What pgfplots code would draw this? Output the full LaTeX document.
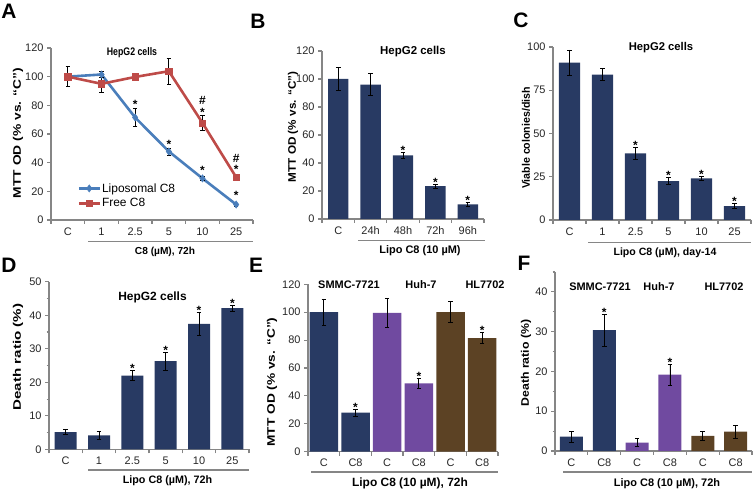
\documentclass[border=0pt]{standalone}
\usepackage{fontspec}
\setmainfont{Liberation Sans}
\usepackage{pgfplots}
\pgfplotsset{compat=1.18}
\definecolor{axgray}{RGB}{134,134,134}
\definecolor{navy}{RGB}{40,58,99}
\definecolor{purp}{RGB}{112,74,160}
\definecolor{brwn}{RGB}{92,66,36}
\definecolor{lblue}{RGB}{74,126,187}
\definecolor{lred}{RGB}{190,75,72}
\newcommand{\tfont}{\fontsize{11}{13}\selectfont}
\newcommand{\bfs}[1]{\bfseries\fontsize{#1}{#1}\selectfont}
\pgfplotsset{
 panel/.style={
  scale only axis, anchor=south west,
  axis lines*=left,
  axis line style={draw=axgray, line width=1.3bp},
  every tick/.style={draw=axgray, line width=1.1bp},
  tick align=outside,
  major tick length=4bp, minor tick length=2.5bp,
  ymin=0, xmin=-0.5,
  x tick label as interval,
  tick label style={font=\tfont, text=black!85},
  /pgf/number format/assume math mode=true,
  clip=false,
  enlargelimits=false,
 },
 errs/.style={error bars/.cd, y dir=both, y explicit,
   error bar style={black, line width=0.7bp},
   error mark options={rotate=90, black, mark size=2.3bp, line width=0.7bp}},
 barst/.style={ybar, bar shift=0pt, draw=none, fill=#1},
 starsbar/.style={draw=none, mark=none, nodes near coords, point meta=explicit symbolic,
   nodes near coords style={font=\bfseries\fontsize{12}{12}\selectfont, anchor=south, inner sep=0pt, yshift=-2.3bp}},
 starsA/.style={draw=none, mark=none, nodes near coords, point meta=explicit symbolic,
   nodes near coords style={font=\bfseries\fontsize{12}{12}\selectfont, anchor=south, inner sep=0pt}},
}
\begin{document}
\begin{tikzpicture}[x=1bp,y=1bp]
\useasboundingbox (0,0) rectangle (754,491);

% ---------------- A ----------------
\begin{axis}[panel, at={(51bp,271bp)}, width=202bp, height=172bp,
  xmax=5.5, ymax=120, ytick={0,20,...,120},
  xtick={-0.5,0.5,...,5.5}, xticklabels={C,1,2.5,5,10,25},
  legend style={font=\fontsize{12}{14}\selectfont, draw=none, fill=none, at={(0.13,0.22)}, anchor=north west,
     inner sep=0pt, row sep=3bp, nodes={inner sep=1bp}},
  legend cell align=left,
  legend image code/.code={\draw[mark repeat=2,mark phase=2] plot coordinates {(0bp,0bp)(10.5bp,0bp)(21bp,0bp)};}]
\addplot[lblue, line width=2.6bp, mark=diamond*, mark size=3.6bp, mark options={fill=lblue, line width=0.5bp}, errs]
 coordinates {(0,100) +- (0,1) (1,101.5) +- (0,2) (2,71.5) +- (0,6.3) (3,47.8) +- (0,2.5) (4,29) +- (0,1.5) (5,10.8) +- (0,1)};
\addlegendentry{Liposomal C8}
\addplot[lred, line width=2.6bp, mark=square*, mark size=3.2bp, mark options={fill=lred, line width=0.5bp}, errs]
 coordinates {(0,100) +- (0,7) (1,95) +- (0,6) (2,99.8) +- (0,2) (3,103.8) +- (0,9) (4,67.7) +- (0,5) (5,29.8) +- (0,1.5)};
\addlegendentry{Free C8}
\addplot[starsA, forget plot] coordinates {(2,77.3) [*] (3,49.8) [*] (4,31.3) [*] (5,13.9) [*] (4,71.9) [*] (5,32.3) [*] (4,80.5) [\#] (5,40) [\#]};
\end{axis}

% ---------------- B ----------------
\begin{axis}[panel, at={(322bp,272bp)}, width=162bp, height=168bp,
  xmax=4.5, ymax=120, ytick={0,20,...,120},
  xtick={-0.5,0.5,...,4.5}, xticklabels={C,24h,48h,72h,96h}]
\addplot[barst=navy, bar width=0.63, errs]
 coordinates {(0,100) +- (0,8) (1,96) +- (0,8) (2,45.5) +- (0,2) (3,23.5) +- (0,1.5) (4,10.5) +- (0,1.3)};
\addplot[starsbar] coordinates {(2,47.5) [*] (3,25) [*] (4,11.8) [*]};
\end{axis}

% ---------------- C ----------------
\begin{axis}[panel, at={(553bp,271bp)}, width=198bp, height=173bp,
  xmax=5.5, ymax=100, ytick={0,25,...,100},
  xtick={-0.5,0.5,...,5.5}, xticklabels={C,1,2.5,5,10,25}]
\addplot[barst=navy, bar width=0.64, errs]
 coordinates {(0,91) +- (0,7.3) (1,84) +- (0,3.5) (2,38.5) +- (0,3.2) (3,22.5) +- (0,2) (4,24) +- (0,1.2) (5,8) +- (0,1.5)};
\addplot[starsbar] coordinates {(2,41.7) [*] (3,24.5) [*] (4,25.2) [*] (5,9.5) [*]};
\end{axis}

% ---------------- D ----------------
\begin{axis}[panel, at={(49bp,41.5bp)}, width=200bp, height=167.8bp,
  xmax=5.5, ymax=50, ytick={0,10,...,50}, minor ytick={5,15,...,45},
  xtick={-0.5,0.5,...,5.5}, xticklabels={C,1,2.5,5,10,25}]
\addplot[barst=navy, bar width=0.66, errs]
 coordinates {(0,5.2) +- (0,0.7) (1,4.2) +- (0,1.1) (2,22) +- (0,1.5) (3,26.3) +- (0,2.6) (4,37.4) +- (0,3.4) (5,42.1) +- (0,0.9)};
\addplot[starsbar] coordinates {(2,23.5) [*] (3,28.9) [*] (4,40.8) [*] (5,43) [*]};
\end{axis}

% ---------------- E ----------------
\begin{axis}[panel, at={(308bp,39.3bp)}, width=190bp, height=167.4bp,
  xmax=5.5, ymax=120, ytick={0,20,...,120},
  xtick={-0.5,0.5,...,5.5}, xticklabels={C,C8,C,C8,C,C8}]
\addplot[barst=navy, bar width=0.9, errs] coordinates {(0,100) +- (0,9.5) (1,28) +- (0,2.5)};
\addplot[barst=purp, bar width=0.9, errs] coordinates {(2,99.5) +- (0,10.2) (3,49) +- (0,3.5)};
\addplot[barst=brwn, bar width=0.9, errs] coordinates {(4,100) +- (0,7.5) (5,81.5) +- (0,4)};
\addplot[starsbar] coordinates {(1,30.5) [*] (3,52.5) [*] (5,85.5) [*]};
\end{axis}

% ---------------- F ----------------
\begin{axis}[panel, at={(555bp,40bp)}, width=197bp, height=179bp,
  xmax=5.5, ymax=45, ytick={0,10,...,40}, minor ytick={5,15,...,45},
  xtick={-0.5,0.5,...,5.5}, xticklabels={C,C8,C,C8,C,C8}]
\addplot[barst=navy, bar width=0.7, errs] coordinates {(0,3.6) +- (0,1.4) (1,30.4) +- (0,4)};
\addplot[barst=purp, bar width=0.7, errs] coordinates {(2,2.1) +- (0,1) (3,19.2) +- (0,2.6)};
\addplot[barst=brwn, bar width=0.7, errs] coordinates {(4,3.8) +- (0,1.2) (5,4.9) +- (0,1.6)};
\addplot[starsbar] coordinates {(1,34.4) [*] (3,21.8) [*]};
\end{axis}

% ---------------- panel letters ----------------
\begin{scope}[every node/.style={font=\bfs{21}, inner sep=0pt}]
\node at (9,480) {A};
\node at (258,469.5) {B};
\node at (521,471) {C};
\node at (9,225.5) {D};
\node at (256,226) {E};
\node at (524,227.5) {F};
\end{scope}

% ---------------- titles ----------------
\begin{scope}[every node/.style={inner sep=0pt}]
\node[font=\bfs{11}] at (132,438) {\scalebox{0.8}[1]{HepG2 cells}};
\node[font=\bfs{11.5}] at (413,439.3) {HepG2 cells};
\node[font=\bfs{11.3}] at (661,443.5) {HepG2 cells};
\node[font=\bfs{12}] at (152.5,193.5) {HepG2 cells};
\node[font=\bfs{11}] at (349,206) {SMMC-7721};
\node[font=\bfs{11}] at (421,206) {Huh-7};
\node[font=\bfs{11}] at (485,206) {HL7702};
\node[font=\bfs{11}] at (600,204.3) {SMMC-7721};
\node[font=\bfs{11}] at (659,204.3) {Huh-7};
\node[font=\bfs{11}] at (724,204.3) {HL7702};
% y labels
\node[rotate=90, font=\bfs{11}] at (18,358) {\scalebox{1.26}[1]{MTT OD (\% vs. “C”)}};
\node[rotate=90, font=\bfs{11}] at (293,364) {\scalebox{1.07}[1]{MTT OD (\% vs. “C”)}};
\node[rotate=90, font=\bfs{11}] at (526,353) {\scalebox{0.97}[1]{Viable colonies/dish}};
\node[rotate=90, font=\bfs{11}] at (18,134) {\scalebox{1.38}[1]{Death ratio (\%)}};
\node[rotate=90, font=\bfs{11}] at (272,109) {\scalebox{1.25}[1]{MTT OD (\% vs. “C”)}};
\node[rotate=90, font=\bfs{11}] at (526,128) {\scalebox{1.12}[1]{Death ratio (\%)}};
% x group labels
\node[font=\bfs{10.2}] at (165,239.3) {C8 (µM), 72h};
\node[font=\bfs{11}] at (420,240.3) {Lipo C8 (10 µM)};
\node[font=\bfs{10.6}] at (665,238.7) {Lipo C8 (µM), day-14};
\node[font=\bfs{10.8}] at (167.5,10) {Lipo C8 (µM), 72h};
\node[font=\bfs{12}] at (410,8) {Lipo C8 (10 µM), 72h};
\node[font=\bfs{11}] at (667,7.5) {Lipo C8 (10 µM), 72h};
\end{scope}

% ---------------- underlines ----------------
\begin{scope}[draw=axgray, line width=1.1bp]
\draw (88,249.3) -- (253,249.3);
\draw (358,250.3) -- (485,250.3);
\draw (588,248.7) -- (751,248.7);
\draw (88,21) -- (249,21);
\draw (311,19) -- (498,19);
\draw (563,19) -- (752,19);
\end{scope}
\end{tikzpicture}
\end{document}
